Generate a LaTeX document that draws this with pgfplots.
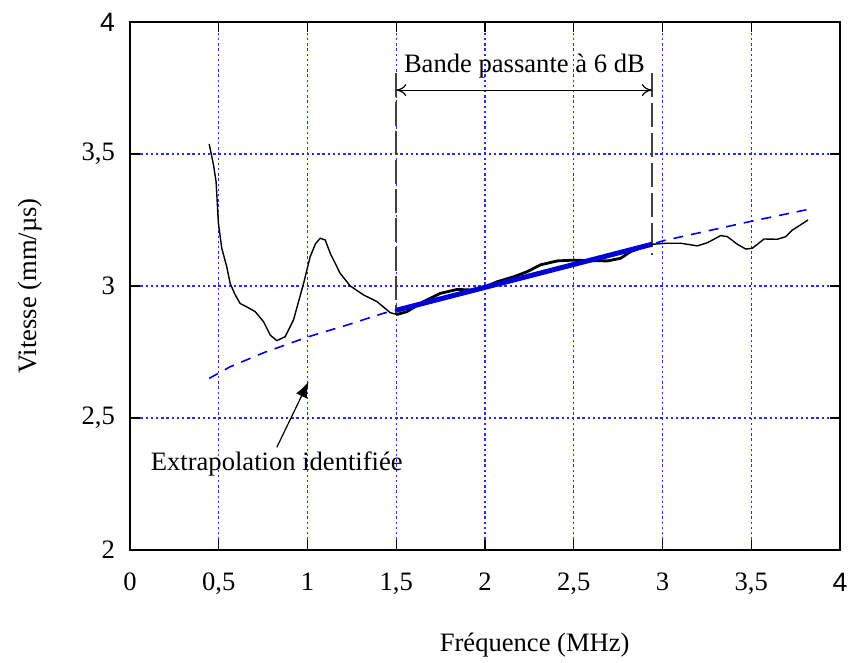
\documentclass[border=0pt]{standalone}
\usepackage{fontspec}
\setmainfont{Liberation Serif}
\newfontfamily\arialfont{Liberation Sans}
\usepackage{pgfplots}
\pgfplotsset{compat=1.18}
\usetikzlibrary{arrows.meta,calc}

\begin{document}
\begin{tikzpicture}[font=\fontsize{13.3}{15}\selectfont]
\begin{axis}[
  scale only axis, width=355pt, height=264pt,
  xmin=0, xmax=4, ymin=2, ymax=4,
  xtick={0,0.5,1,1.5,2,2.5,3,3.5,4},
  xticklabels={0,{0,5},1,{1,5},2,{2,5},3,{3,5},{\arialfont 4}},
  ytick={2,2.5,3,3.5,4},
  yticklabels={2,{2,5},3,{3,5},{\arialfont 4}},
  tick align=inside, major tick length=5pt,
  tick style={black, line width=0.6pt},
  axis line style={black, line width=0.8pt},
  grid=major,
  major grid style={draw={rgb,255:red,40;green,40;blue,255}, line width=0.6pt, dash pattern=on 1.2pt off 1.4pt},
  tick label style={font=\fontsize{13.3}{15}\selectfont},
  label style={font=\fontsize{13.3}{15}\selectfont},
  xticklabel style={yshift=-8pt},
  yticklabel style={xshift=-4pt},
  xlabel={Fréquence (MHz)},
  ylabel={Vitesse (mm/µs)},
  xlabel style={at={(axis description cs:0.57,-0.18)}, anchor=center},
  ylabel style={at={(axis description cs:-0.1408,0.5)}, anchor=center},
  clip=false,
]
\coordinate (SW) at (rel axis cs:0,0);
\coordinate (NE) at (rel axis cs:1,1);

% bandwidth markers
\addplot[gray!50!black, line width=0.8pt, dash pattern=on 12pt off 2.5pt] coordinates {(1.5,3.807) (1.5,2.895)};
\addplot[gray!50!black, line width=0.8pt, dash pattern=on 12pt off 3pt] coordinates {(2.94,3.807) (2.94,3.117)};

% extrapolation (dashed blue)
\addplot[blue!90!black, line width=0.8pt, dash pattern=on 5pt off 4pt] coordinates {
(0.446,2.650) (0.564,2.694) (0.752,2.747) (1.006,2.808) (1.222,2.852) (1.429,2.897) (1.5,2.908)
(2.0,2.995) (2.5,3.082) (2.94,3.158) (3.008,3.172) (3.506,3.246) (3.82,3.290)};

% measured velocity (thin black)
\addplot[black, line width=0.7pt] coordinates {
(0.446,3.538) (0.470,3.460) (0.485,3.395) (0.498,3.238) (0.517,3.143) (0.545,3.073)
(0.564,3.010) (0.590,2.970) (0.620,2.934) (0.660,2.920) (0.705,2.903) (0.752,2.865)
(0.790,2.814) (0.827,2.793) (0.874,2.808) (0.921,2.871) (0.978,3.010) (1.015,3.111)
(1.045,3.160) (1.072,3.181) (1.100,3.174) (1.128,3.124) (1.184,3.048) (1.241,3.000)
(1.316,2.966) (1.391,2.941) (1.466,2.899) (1.504,2.892) (1.560,2.903) (1.654,2.941)
(1.748,2.972) (1.843,2.987) (1.918,2.985) (1.993,2.995) (2.068,3.016) (2.162,3.035)
(2.237,3.054) (2.312,3.080) (2.407,3.095) (2.500,3.098) (2.594,3.096) (2.689,3.095)
(2.764,3.105) (2.820,3.130) (2.895,3.149) (2.942,3.158) (3.027,3.162) (3.102,3.162)
(3.196,3.152) (3.253,3.164) (3.328,3.191) (3.365,3.187) (3.422,3.158) (3.469,3.140)
(3.506,3.143) (3.572,3.178) (3.647,3.177) (3.694,3.187) (3.732,3.212) (3.820,3.250)};

% measured velocity in the bandwidth (thicker)
\addplot[black, line width=1.4pt] coordinates {
(1.504,2.892) (1.560,2.903) (1.654,2.941)
(1.748,2.972) (1.843,2.987) (1.918,2.985) (1.993,2.995) (2.068,3.016) (2.162,3.035)
(2.237,3.054) (2.312,3.080) (2.407,3.095) (2.500,3.098) (2.594,3.096) (2.689,3.095)
(2.764,3.105) (2.820,3.130) (2.895,3.149) (2.942,3.158)};

% fitted line (thick blue)
\addplot[blue!85!black, line width=2.5pt] coordinates {(1.5,2.908) (2.94,3.158)};

% annotations
\draw[{To[length=5pt,width=6pt]}-{To[length=5pt,width=6pt]}, line width=0.6pt]
  (axis cs:1.5,3.742) -- (axis cs:2.94,3.742);
\node[anchor=base, inner sep=0pt] at (axis cs:2.222,3.807) {Bande passante à 6 dB};
\draw[-{Latex[length=8pt,width=6pt]}, line width=0.6pt]
  (axis cs:0.827,2.389) -- (axis cs:1.006,2.638);
\node[anchor=base, inner sep=0pt] at (axis cs:0.827,2.303) {Extrapolation\ identifiée};
\end{axis}
\pgfresetboundingbox
\path ($(SW)+(-65pt,-56pt)$) rectangle ($(NE)+(4pt,11pt)$);
\end{tikzpicture}
\end{document}
